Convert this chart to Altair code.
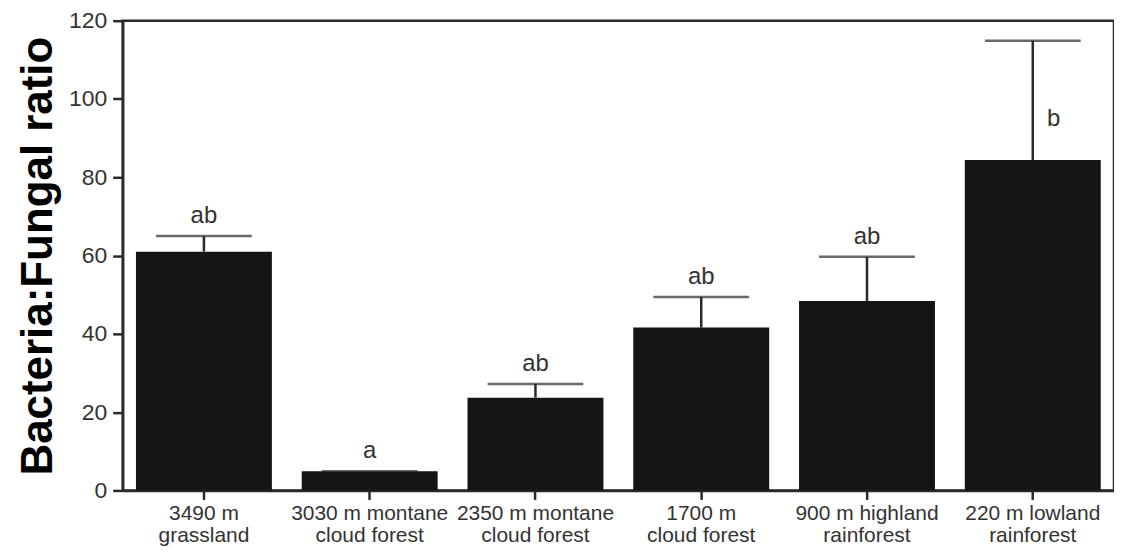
import altair as alt
import pandas as pd

sites = ["3490 m|grassland", "3030 m montane|cloud forest", "2350 m montane|cloud forest",
         "1700 m|cloud forest", "900 m highland|rainforest", "220 m lowland|rainforest"]
ratio = [61.0, 4.9, 23.7, 41.6, 48.4, 84.4]
err_top = [65.0, 4.9, 27.2, 49.4, 59.7, 114.9]
letters = ["ab", "a", "ab", "ab", "ab", "b"]
letter_inside = [False, False, False, False, False, True]
inside_y = [None, None, None, None, None, 95.0]

df = pd.DataFrame({"site": sites, "ratio": ratio, "err": err_top, "letter": letters,
                   "inside": letter_inside, "iy": inside_y})

FONT = "Liberation Sans"
INK = "#2a2a2a"
x = alt.X("site:N", sort=sites, title=None,
          scale=alt.Scale(paddingInner=0.18, paddingOuter=0.08),
          axis=alt.Axis(labelAngle=0, labelExpr="split(datum.label, '|')",
                        labelFontSize=21, labelColor="#333", labelFont=FONT,
                        labelPadding=3, tickSize=9, tickColor=INK, tickWidth=2.5,
                        domainColor=INK, domainWidth=2.5, labelLineHeight=22))
yscale = alt.Scale(domain=[0, 120], nice=False)
y = alt.Y("ratio:Q", scale=yscale, title="Bacteria:Fungal ratio",
          axis=alt.Axis(values=[0, 20, 40, 60, 80, 100, 120], grid=False,
                        labelFontSize=23, labelColor="#333", labelFont=FONT,
                        tickSize=10, tickColor=INK, tickWidth=2.5, labelPadding=6,
                        domainColor=INK, domainWidth=2.5,
                        titleFontSize=44, titleFont=FONT, titleFontWeight="bold",
                        titleColor="#000", titlePadding=8))

base = alt.Chart(df)
bars = base.mark_bar(color="#151515").encode(x=x, y=y)
rule = base.mark_rule(color=INK, strokeWidth=2.5).encode(
    x=alt.X("site:N", sort=sites), y=alt.Y("ratio:Q", scale=yscale), y2="err:Q")
cap = base.mark_tick(color=INK, thickness=2.5, size=96).encode(
    x=alt.X("site:N", sort=sites), y=alt.Y("err:Q", scale=yscale))
txt = base.transform_filter("!datum.inside").mark_text(
    fontSize=24, font=FONT, color="#333", baseline="middle", dy=-20).encode(
    x=alt.X("site:N", sort=sites), y=alt.Y("err:Q", scale=yscale), text="letter:N")
txt_in = base.transform_filter("datum.inside").mark_text(
    fontSize=24, font=FONT, color="#333", baseline="middle", dx=21).encode(
    x=alt.X("site:N", sort=sites), y=alt.Y("iy:Q", scale=yscale), text="letter:N")

chart = alt.layer(bars, rule, cap, txt, txt_in).properties(
    width=994, height=471,
    background="white",
    autosize=alt.AutoSizeParams(type="none"),
    padding={"left": 115, "top": 12, "right": 0, "bottom": 57},
).configure_view(stroke=INK, strokeWidth=2.5)

chart.save("out.html", embed_options={"renderer": "svg", "actions": False})
